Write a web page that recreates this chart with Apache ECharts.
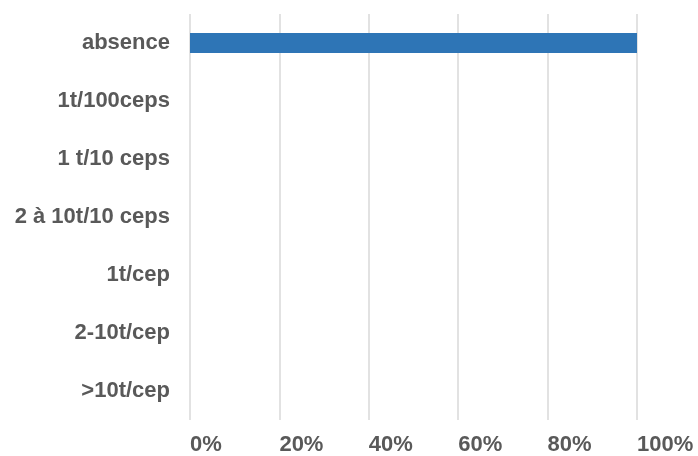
<!DOCTYPE html>
<html>
<head>
<meta charset="utf-8">
<script src="https://cdn.jsdelivr.net/npm/echarts@6/dist/echarts.min.js"></script>
<style>
  html, body { margin: 0; padding: 0; background: #ffffff; }
  #chart { width: 698px; height: 456px; }
</style>
</head>
<body>
<div id="chart"></div>
<script>
// Damage classes, from no damage to the heaviest infestation
const categories = ['absence', '1t/100ceps', '1 t/10 ceps', '2 à 10t/10 ceps', '1t/cep', '2-10t/cep', '>10t/cep'];
// Share of plots in each class (%)
const shares = [100, 0, 0, 0, 0, 0, 0];
// Percentage axis ticks
const axisMin = 0;
const axisMax = 100;
const axisStep = 20;

const labelFont = {
  fontFamily: '"Liberation Sans", Arial, sans-serif',
  fontWeight: 'bold',
  fontSize: 22,
  color: '#595959'
};

const chart = echarts.init(document.getElementById('chart'), null, { renderer: 'canvas' });
chart.setOption({
  animation: false,
  backgroundColor: '#ffffff',
  grid: { left: 190, right: 61, top: 14, bottom: 35, containLabel: false },
  xAxis: {
    type: 'value',
    min: axisMin,
    max: axisMax,
    interval: axisStep,
    axisLine: { show: false },
    axisTick: { show: false },
    splitLine: { show: true, lineStyle: { color: '#d9d9d9', width: 1.5 } },
    axisLabel: Object.assign({}, labelFont, {
      formatter: '{value}%',
      align: 'left',
      margin: 14
    })
  },
  yAxis: {
    type: 'category',
    data: categories,
    inverse: true,
    axisLine: { show: false },
    axisTick: { show: false },
    splitLine: { show: false },
    axisLabel: Object.assign({}, labelFont, { margin: 20 })
  },
  series: [{
    type: 'bar',
    data: shares,
    barWidth: 20,
    itemStyle: { color: '#2E75B6' }
  }]
});
</script>
</body>
</html>
